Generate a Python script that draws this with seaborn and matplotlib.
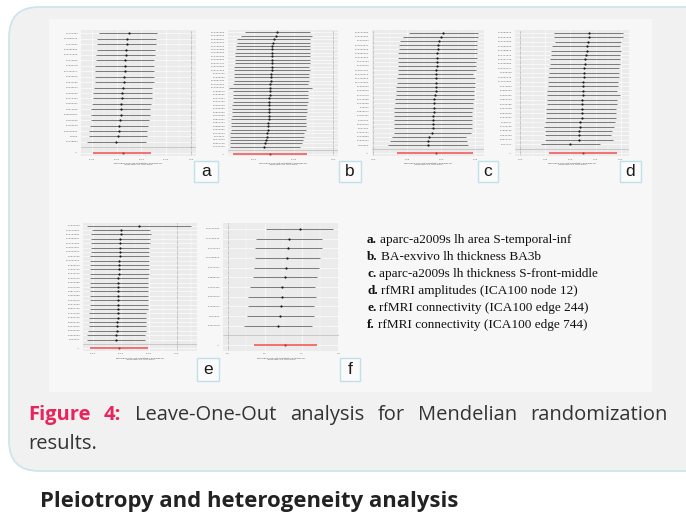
import matplotlib
matplotlib.use("Agg")
import numpy as np
import pandas as pd
import seaborn as sns
import matplotlib.pyplot as plt
from matplotlib.patches import FancyBboxPatch, Rectangle
from matplotlib.transforms import IdentityTransform
from matplotlib.ticker import FixedLocator

# ---------------- data ----------------
snps_a = "rs1127354 rs11589479 rs1224561 rs12695382 rs13107325 rs1412825 rs1532278 rs17462317 rs1948915 rs2074356 rs2236512 rs2483280 rs2710323 rs3096301 rs3213945 rs35518360 rs4402960 rs4766578 rs56228609 rs6265 rs7138803".split()
est_a = [-0.126, -0.130, -0.130, -0.132, -0.132, -0.133, -0.134, -0.134, -0.135, -0.135, -0.138, -0.139, -0.139, -0.141, -0.142, -0.142, -0.143, -0.146, -0.146, -0.148, -0.151]
lo_a = [-0.185, -0.189, -0.189, -0.190, -0.192, -0.192, -0.193, -0.193, -0.194, -0.194, -0.196, -0.198, -0.198, -0.200, -0.202, -0.201, -0.201, -0.203, -0.205, -0.206, -0.209]
hi_a = [-0.068, -0.070, -0.070, -0.072, -0.072, -0.074, -0.074, -0.074, -0.075, -0.075, -0.078, -0.079, -0.079, -0.081, -0.082, -0.083, -0.084, -0.087, -0.088, -0.089, -0.091]
all_a = (-0.138, -0.197, -0.081)
ticks_a = [-0.20, -0.15, -0.10, -0.05, 0.00]
xlim_a = (-0.222, 0.010)

snps_b = "rs10401969 rs10789340 rs10938397 rs11030104 rs11165643 rs11191580 rs12286929 rs12446632 rs12940622 rs13021737 rs13078960 rs13107325 rs1516725 rs1558902 rs16851483 rs17001654 rs17094222 rs1808579 rs1928295 rs2112347 rs2207139 rs2287019 rs2365389 rs2820292 rs3101336 rs3810291 rs3817334 rs3888190 rs4256980 rs4740619 rs543874 rs6477694 rs6567160 rs7141420".split()
est_b = [-0.071, -0.072, -0.075, -0.076, -0.077, -0.077, -0.077, -0.078, -0.078, -0.078, -0.078, -0.078, -0.079, -0.079, -0.079, -0.080, -0.080, -0.080, -0.080, -0.081, -0.081, -0.081, -0.081, -0.081, -0.081, -0.081, -0.082, -0.082, -0.083, -0.084, -0.084, -0.085, -0.086, -0.087]
lo_b = [-0.111, -0.117, -0.121, -0.122, -0.123, -0.123, -0.124, -0.124, -0.124, -0.124, -0.125, -0.125, -0.126, -0.126, -0.126, -0.127, -0.132, -0.127, -0.127, -0.127, -0.127, -0.128, -0.128, -0.128, -0.128, -0.129, -0.129, -0.129, -0.129, -0.130, -0.130, -0.130, -0.131, -0.131]
hi_b = [-0.030, -0.027, -0.030, -0.029, -0.029, -0.030, -0.030, -0.030, -0.030, -0.030, -0.031, -0.030, -0.031, -0.031, -0.031, -0.032, -0.027, -0.032, -0.032, -0.032, -0.032, -0.033, -0.033, -0.033, -0.034, -0.034, -0.034, -0.035, -0.035, -0.037, -0.037, -0.038, -0.040, -0.042]
all_b = (-0.080, -0.127, -0.033)
ticks_b = [-0.10, -0.05, 0.00]
xlim_b = (-0.133, 0.006)

snps_c = "rs10132280 rs10182181 rs1167827 rs12016871 rs12429545 rs12885454 rs13191362 rs1441264 rs1460676 rs16907751 rs17203016 rs17405819 rs17724992 rs1960393 rs2033529 rs2121279 rs2176598 rs2245368 rs29941 rs3849570 rs4787491 rs492400 rs6091540 rs657452 rs7164727 rs7239883 rs7599312 rs879620".split()
est_c = [0.102, 0.100, 0.097, 0.095, 0.095, 0.094, 0.094, 0.094, 0.094, 0.093, 0.093, 0.092, 0.092, 0.092, 0.092, 0.091, 0.090, 0.090, 0.089, 0.089, 0.088, 0.088, 0.088, 0.088, 0.087, 0.082, 0.081, 0.080]
lo_c = [0.052, 0.044, 0.039, 0.038, 0.038, 0.037, 0.037, 0.037, 0.037, 0.036, 0.036, 0.035, 0.035, 0.034, 0.034, 0.033, 0.032, 0.032, 0.031, 0.031, 0.031, 0.031, 0.031, 0.030, 0.030, 0.027, 0.025, 0.022]
hi_c = [0.154, 0.154, 0.153, 0.153, 0.153, 0.152, 0.152, 0.151, 0.151, 0.151, 0.147, 0.150, 0.150, 0.150, 0.149, 0.148, 0.148, 0.147, 0.147, 0.146, 0.146, 0.146, 0.145, 0.145, 0.144, 0.137, 0.138, 0.139]
all_c = (0.092, 0.035, 0.147)
ticks_c = [0.00, 0.05, 0.10, 0.15]
xlim_c = (-0.002, 0.163)

snps_d = "rs10968576 rs11057405 rs11126666 rs11583200 rs11688816 rs11727676 rs12401738 rs12566985 rs13201877 rs1528435 rs16951275 rs17024393 rs2075650 rs2080454 rs2650492 rs2836754 rs3736485 rs4671328 rs6804842 rs7243357 rs758747 rs7715256 rs7899106 rs9540493 rs9641123 rs977747".split()
est_d = [0.136, 0.136, 0.135, 0.132, 0.132, 0.130, 0.129, 0.128, 0.127, 0.126, 0.126, 0.125, 0.124, 0.124, 0.124, 0.123, 0.123, 0.122, 0.122, 0.122, 0.118, 0.118, 0.116, 0.116, 0.116, 0.099]
lo_d = [0.067, 0.067, 0.070, 0.063, 0.061, 0.061, 0.059, 0.059, 0.058, 0.057, 0.056, 0.056, 0.055, 0.054, 0.053, 0.053, 0.053, 0.052, 0.051, 0.051, 0.049, 0.047, 0.049, 0.050, 0.049, 0.041]
hi_d = [0.205, 0.205, 0.201, 0.199, 0.201, 0.199, 0.199, 0.198, 0.197, 0.197, 0.196, 0.195, 0.194, 0.193, 0.199, 0.193, 0.192, 0.191, 0.191, 0.191, 0.189, 0.186, 0.183, 0.181, 0.184, 0.158]
all_d = (0.124, 0.057, 0.192)
ticks_d = [0.00, 0.05, 0.10, 0.15, 0.20]
xlim_d = (-0.010, 0.216)

snps_e = "rs1000940 rs10146997 rs10733682 rs10938397 rs11191560 rs11847697 rs12940622 rs1516725 rs17094222 rs1808579 rs2033732 rs2176040 rs2287019 rs2365389 rs3101336 rs3817334 rs4256980 rs4740619 rs6477694 rs6567160 rs7141420 rs7903146 rs8050136 rs9374842 rs9400239 rs9925964 rs943005".split()
est_e = [-0.068, -0.099, -0.099, -0.101, -0.101, -0.102, -0.102, -0.102, -0.103, -0.103, -0.103, -0.103, -0.104, -0.104, -0.104, -0.104, -0.104, -0.104, -0.104, -0.105, -0.105, -0.105, -0.106, -0.106, -0.107, -0.108, -0.109]
lo_e = [-0.159, -0.151, -0.152, -0.152, -0.152, -0.153, -0.153, -0.154, -0.154, -0.154, -0.154, -0.154, -0.154, -0.154, -0.154, -0.154, -0.155, -0.155, -0.155, -0.155, -0.156, -0.156, -0.156, -0.156, -0.158, -0.159, -0.159]
hi_e = [0.025, -0.048, -0.046, -0.047, -0.048, -0.049, -0.049, -0.049, -0.049, -0.050, -0.050, -0.050, -0.051, -0.051, -0.051, -0.051, -0.051, -0.051, -0.051, -0.052, -0.054, -0.054, -0.054, -0.055, -0.055, -0.057, -0.057]
all_e = (-0.103, -0.155, -0.052)
ticks_e = [-0.15, -0.10, -0.05, 0.00]
xlim_e = (-0.167, 0.036)

snps_f = "rs10132280 rs11165643 rs1441264 rs17405819 rs2112347 rs3888190 rs4787491 rs6091540 rs7599312 rs879620 rs9914578".split()
est_f = [0.195, 0.165, 0.162, 0.161, 0.157, 0.154, 0.146, 0.146, 0.145, 0.142, 0.135]
lo_f = [0.103, 0.076, 0.072, 0.073, 0.070, 0.067, 0.059, 0.055, 0.055, 0.051, 0.044]
hi_f = [0.286, 0.256, 0.255, 0.251, 0.247, 0.242, 0.236, 0.238, 0.235, 0.234, 0.228]
all_f = (0.155, 0.070, 0.241)
ticks_f = [0.0, 0.1, 0.2, 0.3]
xlim_f = (-0.014, 0.302)

panel_letters = ["a", "b", "c", "d", "e", "f"]
legend_names = [
    "aparc-a2009s lh area S-temporal-inf",
    "BA-exvivo lh thickness BA3b",
    "aparc-a2009s lh thickness S-front-middle",
    "rfMRI amplitudes (ICA100 node 12)",
    "rfMRI connectivity (ICA100 edge 244)",
    "rfMRI connectivity (ICA100 edge 744)",
]
caption_lead = "Figure 4:"
caption_line1 = "Leave-One-Out analysis for Mendelian randomization"
caption_line2 = "results."
heading = "Pleiotropy and heterogeneity analysis"
xlab = "MR leave-one-out sensitivity analysis for\n'exposure' on 'outcome'"

# ---------------- layout ----------------
sns.set_theme(style="darkgrid")
plt.rcParams['font.family'] = ['DejaVu Sans']
W, H = 686, 528
fig = plt.figure(figsize=(W / 100, H / 100), dpi=100)
fig.patch.set_facecolor("white")
ident = IdentityTransform()

def rect(x0, y0, x1, y1):
    return [x0 / W, 1 - y1 / H, (x1 - x0) / W, (y1 - y0) / H]

outer = FancyBboxPatch((9, H - 471), 720, 464, boxstyle="round,pad=0,rounding_size=30",
                       transform=ident, fc="#f1f1f1", ec="#c9e4ee", lw=1.2, zorder=-10)
fig.add_artist(outer)
inner = Rectangle((49, H - 392), 603, 392 - 19, transform=ident, fc="#f7f7f7", ec="none", zorder=-9)
fig.add_artist(inner)

panels = [
    (snps_a, est_a, lo_a, hi_a, all_a, ticks_a, xlim_a, (81, 30, 196, 156), (194, 161, 218, 182)),
    (snps_b, est_b, lo_b, hi_b, all_b, ticks_b, xlim_b, (228, 30, 338, 156), (339, 161, 361, 182)),
    (snps_c, est_c, lo_c, hi_c, all_c, ticks_c, xlim_c, (372, 30, 484, 156), (478, 161, 498, 182)),
    (snps_d, est_d, lo_d, hi_d, all_d, ticks_d, xlim_d, (515, 30, 629, 156), (620, 161, 641, 182)),
    (snps_e, est_e, lo_e, hi_e, all_e, ticks_e, xlim_e, (83, 223, 197, 351), (197, 358, 219, 381)),
    (snps_f, est_f, lo_f, hi_f, all_f, ticks_f, xlim_f, (223, 223, 339, 351), (340, 358, 360, 381)),
]

for (snps, est, lo, hi, allv, ticks, xlim, box, lbox), letter in zip(panels, panel_letters):
    n = len(snps)
    df = pd.DataFrame({"snp": snps, "est": est, "lo": lo, "hi": hi})
    df["y"] = np.arange(n + 2, 2, -1)
    ax = fig.add_axes(rect(*box))
    ax.set_facecolor("#ebebeb")
    ax.set_axisbelow(True)
    for s in ax.spines.values():
        s.set_visible(False)
    ax.hlines(df["y"], df["lo"], df["hi"], color="#666666", lw=0.6, zorder=3)
    sns.scatterplot(data=df, x="est", y="y", ax=ax, color="#1a1a1a", s=2.6, linewidth=0, zorder=4, legend=False)
    ax.hlines([1], [allv[1]], [allv[2]], color="#f25a5a", lw=1.2, zorder=3)
    sns.scatterplot(x=[allv[0]], y=[1], ax=ax, color="#c03030", s=2.6, linewidth=0, zorder=4, legend=False)
    ax.axhline(2, color="#b5b5b5", lw=0.5, zorder=2)
    ax.axvline(0, color="#777777", lw=0.45, ls=(0, (1, 1)), zorder=2)
    ax.set_xlim(*xlim)
    ax.set_ylim(0.4, n + 2.6)
    ax.set_yticks(list(range(1, n + 3)))
    ax.set_yticklabels(["All", ""] + list(df["snp"][::-1]))
    ax.set_xticks(ticks)
    ax.set_xticklabels([f"{t:.1f}" if letter == "f" else f"{t:.2f}" for t in ticks])
    step = ticks[1] - ticks[0]
    minors = [t + step / 2 for t in ticks] + [ticks[0] - step / 2]
    ax.xaxis.set_minor_locator(FixedLocator(minors))
    ax.grid(True, which="major", color="white", lw=0.45)
    ax.grid(True, which="minor", axis="x", color="white", lw=0.22)
    ax.tick_params(axis="both", which="major", labelsize=1.7, colors="#666666",
                   length=1.0, width=0.3, pad=0.8, labelcolor="#666666")
    ax.tick_params(axis="both", which="minor", length=0)
    ax.set_xlabel(xlab, fontsize=1.7, color="#444444", labelpad=1.2, linespacing=1.1)
    ax.set_ylabel("")
    # letter box
    fig.add_artist(Rectangle((lbox[0], H - lbox[3]), lbox[2] - lbox[0], lbox[3] - lbox[1],
                             transform=ident, fc="#fbfbfb", ec="#bfe1eb", lw=1.0, zorder=-5))
    fig.text((lbox[0] + lbox[2]) / 2 / W, 1 - (lbox[1] + lbox[3]) / 2 / H, letter,
             ha="center", va="center", fontsize=12.5, family="Liberation Sans", color="#1a1a1a")

# legend text
fig.canvas.draw()
renderer = fig.canvas.get_renderer()
leg_y = [240, 257, 274, 291, 308, 325]
for letter, name, yy in zip(panel_letters, legend_names, leg_y):
    t = fig.text(367 / W, 1 - yy / H, letter + ".", ha="left", va="center", fontsize=9.5,
                 family="Liberation Serif", weight="bold", color="#111111")
    bb = t.get_window_extent(renderer)
    fig.text((bb.x1 + 3) / W, 1 - yy / H, name, ha="left", va="center", fontsize=9.5,
             family="Liberation Serif", color="#111111")

# caption (justified first line)
cap_font = "Open Sans"
cap_size = 14.5
words = caption_lead.split() + caption_line1.split()
styles = [("bold", "#e8245d")] * len(caption_lead.split()) + [("normal", "#333333")] * len(caption_line1.split())
tmp = []
for w, (wt, col) in zip(words, styles):
    tt = fig.text(0, 1 - 415 / H, w, ha="left", va="center", fontsize=cap_size, family=cap_font,
                  weight=wt, color=col)
    tmp.append(tt)
widths = [tt.get_window_extent(renderer).width for tt in tmp]
gap = (668 - 28 - sum(widths)) / (len(words) - 1)
x = 28
for tt, wd in zip(tmp, widths):
    tt.set_x(x / W)
    x += wd + gap
fig.text(28 / W, 1 - 444 / H, caption_line2, ha="left", va="center", fontsize=cap_size,
         family=cap_font, color="#333333")

fig.text(40 / W, 1 - 502 / H, heading, ha="left", va="center", fontsize=15.9, family="Open Sans",
         weight="bold", color="#222222")

fig.savefig("out.png", dpi=100, facecolor="white")
